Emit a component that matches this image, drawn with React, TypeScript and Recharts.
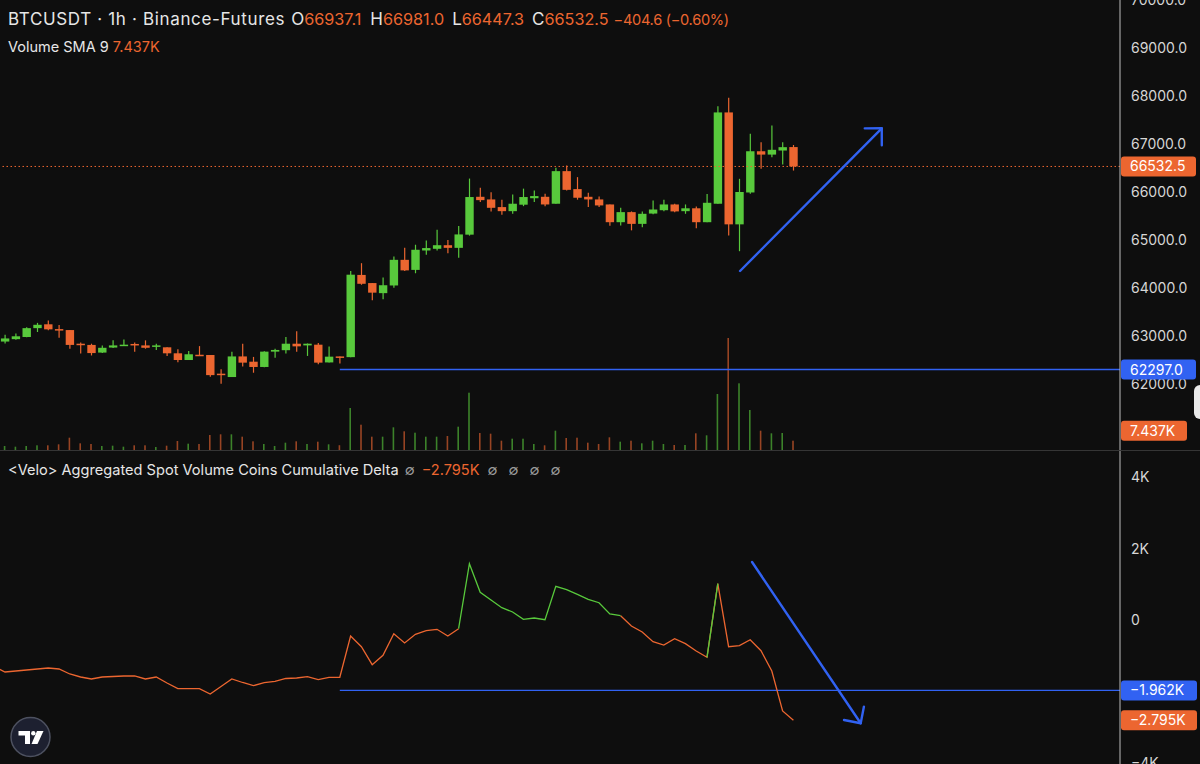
import React from 'react';
import { ComposedChart, Bar, Line, XAxis, YAxis, ReferenceLine } from 'recharts';

// ---------- data (1h BTCUSDT candles, oldest -> newest) ----------
const opens = [62880,62930,62975,63160,63240,63140,63120,62835,62810,62650,62755,62790,62830,62800,62770,62760,62635,62495,62605,62600,62210,62140,62570,62460,62350,62670,62700,62835,62800,62815,62445,62570,62555,64270,64100,63890,64050,64585,64375,64780,64815,64890,64835,65110,65900,65845,65685,65600,65735,65870,65900,65755,66435,66060,65900,65845,65740,65370,65580,65335,65550,65620,65740,65600,65660,65370,65755,67660,65325,65990,66850,66780,66865,66937.1];
const highs = [63020,63050,63180,63270,63320,63225,63120,62860,62835,62800,62905,62925,62860,62905,62835,62760,62720,62685,62785,62600,62300,62670,62835,62560,62680,62730,62975,63095,62840,62850,62775,62570,64350,64515,64100,64215,64655,64835,64900,64990,65215,65000,65290,66280,66090,65995,65840,65950,66070,66030,65965,66505,66555,66310,65985,65905,65740,65670,65595,65595,65825,65840,65755,65740,65700,65960,67790,67965,66275,67215,67040,67385,67040,66981.0];
const lows = [62840,62920,62970,63080,63115,62960,62730,62630,62590,62640,62745,62785,62670,62730,62705,62580,62450,62495,62585,62145,62000,62140,62360,62230,62345,62540,62630,62670,62580,62405,62445,62420,62555,64065,63740,63765,64000,64350,64305,64690,64780,64720,64630,65090,65790,65595,65525,65545,65705,65790,65705,65755,66030,65840,65685,65685,65295,65300,65200,65265,65535,65600,65580,65545,65245,65370,65755,65090,64765,65965,66485,66725,66575,66447.3];
const closes = [62945,62990,63160,63230,63135,63115,62810,62810,62640,62750,62800,62815,62800,62750,62800,62635,62495,62615,62585,62180,62180,62570,62440,62350,62670,62705,62835,62780,62835,62440,62565,62545,64275,64085,63900,64055,64585,64365,64795,64830,64890,64835,65115,65895,65830,65670,65600,65755,65895,65915,65740,66435,66045,65880,65845,65720,65370,65580,65335,65545,65635,65740,65595,65660,65370,65775,67660,65325,66000,66850,66780,66880,66935,66532.5];
const volumes = [760,630,760,890,890,1080,2340,1270,1140,760,820,630,890,890,570,820,1710,1200,1140,2850,2980,2980,2530,1650,1140,760,1390,1650,1140,1580,1080,910,7980,4810,2530,2530,4310,3550,3290,2530,2530,2660,4430,10890,3230,3100,1770,2150,2150,1140,890,3670,2280,2340,1390,1140,2410,1580,1770,1270,1770,1140,950,950,3170,2790,10640,21280,12670,7600,3670,3170,3230,1770];
// Aggregated spot cumulative volume delta (coins), one value per candle
const cvdPrev = -1300;
const cvd = [-1446,-1418,-1390,-1362,-1334,-1362,-1502,-1586,-1642,-1586,-1572,-1558,-1558,-1642,-1586,-1754,-1913,-1913,-1913,-2061,-1852,-1642,-1740,-1829,-1745,-1706,-1628,-1614,-1578,-1661,-1594,-1594,-439,-738,-1242,-979,-375,-635,-392,-291,-252,-439,-235,1583,783,568,352,232,28,64,15,951,856,727,587,492,176,129,-159,-327,-599,-691,-515,-654,-859,-1035,1024,-738,-710,-543,-850,-1418,-2537,-2795];

const priceTicks = [61000,62000,63000,64000,65000,66000,67000,68000,69000,70000];
const cvdTicks = [-4000,-2000,0,2000,4000];
const lastPrice = 66532.5;
const levelPrice = 62297.0;
const levelCvd = -1962;
const volSma = 7437;
const volLabelPos = 3644; // where the volume SMA tag sits on the volume scale
const levelStartIdx = 31;
const arrowUp = [{ x: 68.06, y: 64352 }, { x: 81.18, y: 67329 }];
const arrowDown = [{ x: 69.17, y: 1631 }, { x: 79.23, y: -2881 }];

// ---------- styling ----------
const BG = '#0e0e0e';
const GREEN = '#58c93c';
const ORANGE = '#ec6630';
const BLUE = '#3162f2';
const TXT = '#e6e6e6';
const AXIS_TXT = '#d6d6d6';
const FONT = 'Inter, "Noto Sans", sans-serif';
const X_DOMAIN: [number, number] = [-0.463, 103.24];
const PRICE_DOMAIN: [number, number] = [60618, 70005];
const VOL_DOMAIN: [number, number] = [0, 85500];
const CVD_DOMAIN: [number, number] = [-4020, 4736];

const candleRows = opens.map((o, k) => ({
  i: k, open: o, high: highs[k], low: lows[k], close: closes[k], vol: volumes[k],
}));

const allCvd = [cvdPrev, ...cvd];
const cvdRows = allCvd.map((v, k) => {
  const next = allCvd[k + 1];
  const inUp = v > 0 || (next !== undefined && next > 0);
  const inDn = v <= 0 || (next !== undefined && next <= 0);
  return { i: k - 1, up: inUp ? v : null, dn: inDn ? v : null };
});

const CandleShape = (props: any) => {
  const { x, y, width, height, payload } = props;
  if (!payload || payload.open == null) return null;
  const { open, close, high, low } = payload;
  const cx = x + width / 2;
  const per = height / (high - low || 1);
  const yO = y + (high - open) * per;
  const yC = y + (high - close) * per;
  const color = close >= open ? GREEN : ORANGE;
  const top = Math.min(yO, yC);
  const h = Math.max(Math.abs(yC - yO), 1.5);
  return (
    <g>
      <line x1={cx} x2={cx} y1={y} y2={y + height} stroke={color} strokeWidth={1.2} />
      <rect x={cx - 4.2} y={top} width={8.4} height={h} fill={color} />
    </g>
  );
};

const VolShape = (props: any) => {
  const { x, y, width, height, payload } = props;
  if (!payload || height <= 0) return null;
  const cx = x + width / 2;
  const color = payload.close >= payload.open ? 'rgba(88,201,60,0.62)' : 'rgba(236,102,48,0.62)';
  return <rect x={cx - 0.8} y={y} width={1.6} height={height} fill={color} />;
};

const arrowShape = (props: any) => {
  const { x1, y1, x2, y2 } = props;
  if ([x1, y1, x2, y2].some((v) => v == null || isNaN(v))) return <g />;
  const ang = Math.atan2(y2 - y1, x2 - x1) + Math.PI;
  const L = 17;
  const w1 = { x: x2 + L * Math.cos(ang - Math.PI / 4), y: y2 + L * Math.sin(ang - Math.PI / 4) };
  const w2 = { x: x2 + L * Math.cos(ang + Math.PI / 4), y: y2 + L * Math.sin(ang + Math.PI / 4) };
  return (
    <g>
      <line x1={x1} y1={y1} x2={x2} y2={y2} stroke={BLUE} strokeWidth={2.4} strokeLinecap="round" />
      <polyline points={`${w1.x},${w1.y} ${x2},${y2} ${w2.x},${w2.y}`} fill="none" stroke={BLUE} strokeWidth={2.4} strokeLinecap="round" strokeLinejoin="round" />
    </g>
  );
};

const axisBox = (text: string, fill: string, w = 75) => (props: any) => {
  const vb = props.viewBox || {};
  const x0 = (vb.x || 0) + (vb.width || 0) + 1;
  const yc = (vb.y || 0) + (vb.height || 0) / 2;
  return (
    <g>
      <rect x={x0} y={yc - 10} width={w} height={20} rx={3} fill={fill} />
      <text x={x0 + 9} y={yc + 5} fill="#ffffff" fontSize={14} fontFamily={FONT}>{text}</text>
    </g>
  );
};

const priceTick = (p: any) => (
  <text x={p.x} y={p.y} dy={5} fill={AXIS_TXT} fontSize={14} fontFamily={FONT} textAnchor="start">
    {Number(p.payload.value).toFixed(1)}
  </text>
);

const fmtK = (v: number) => (v === 0 ? '0' : `${v < 0 ? '\u2212' : ''}${Math.abs(v) / 1000}K`);
const cvdTick = (p: any) => (
  <text x={p.x} y={p.y} dy={5} fill={AXIS_TXT} fontSize={14} fontFamily={FONT} textAnchor="start">
    {fmtK(Number(p.payload.value))}
  </text>
);

const O = ({ children, fs }: any) => <span style={{ color: ORANGE, fontSize: fs }}>{children}</span>;
const Null = ({ ml }: any) => <span style={{ color: '#9a9a9a', marginLeft: ml }}>∅</span>;

export default function App() {
  return (
    <div style={{ position: 'absolute', left: 0, top: 0, width: 1200, height: 764, background: BG, overflow: 'hidden', fontFamily: FONT }}>
      {/* volume (behind candles) */}
      <div style={{ position: 'absolute', left: 0, top: 0 }}>
        <ComposedChart width={1200} height={450} data={candleRows} margin={{ top: 0, right: 80, bottom: 0, left: 0 }}>
          <XAxis dataKey="i" type="number" domain={X_DOMAIN} allowDataOverflow hide />
          <YAxis yAxisId="vol" domain={VOL_DOMAIN} allowDataOverflow hide />
          <Bar yAxisId="vol" dataKey="vol" barSize={6} shape={VolShape} isAnimationActive={false} />
        </ComposedChart>
      </div>
      {/* price pane */}
      <div style={{ position: 'absolute', left: 0, top: 0 }}>
        <ComposedChart width={1200} height={450} data={candleRows} margin={{ top: 0, right: 0, bottom: 0, left: 0 }}>
          <XAxis dataKey="i" type="number" domain={X_DOMAIN} allowDataOverflow hide />
          <YAxis yAxisId="p" orientation="right" width={80} domain={PRICE_DOMAIN} allowDataOverflow ticks={priceTicks} interval={0}
            tick={priceTick} tickLine={false} tickSize={0} tickMargin={11} axisLine={{ stroke: '#bdbdbd', strokeWidth: 1 }} />
          <ReferenceLine yAxisId="p" y={lastPrice} stroke={ORANGE} strokeDasharray="1.5 2.5" strokeWidth={1} />
          <ReferenceLine yAxisId="p" segment={[{ x: levelStartIdx, y: levelPrice }, { x: X_DOMAIN[1], y: levelPrice }]}
            stroke={BLUE} strokeWidth={1.3} />
          <Bar yAxisId="p" dataKey={(d: any) => [d.low, d.high]} barSize={9} shape={CandleShape} isAnimationActive={false} />
          <ReferenceLine yAxisId="p" segment={arrowUp} shape={arrowShape} />
        </ComposedChart>
      </div>
      {/* price-scale tags (above the tick labels) */}
      <div style={{ position: 'absolute', left: 0, top: 0 }}>
        <ComposedChart width={1200} height={450} data={candleRows} margin={{ top: 0, right: 80, bottom: 0, left: 0 }}>
          <XAxis dataKey="i" type="number" domain={X_DOMAIN} allowDataOverflow hide />
          <YAxis yAxisId="p" domain={PRICE_DOMAIN} allowDataOverflow hide />
          <YAxis yAxisId="vol" domain={VOL_DOMAIN} allowDataOverflow hide />
          <ReferenceLine yAxisId="p" y={lastPrice} stroke="none" label={axisBox(lastPrice.toFixed(1), ORANGE)} />
          <ReferenceLine yAxisId="p" y={levelPrice} stroke="none" label={axisBox(levelPrice.toFixed(1), BLUE)} />
          <ReferenceLine yAxisId="vol" y={volLabelPos} stroke="none" label={axisBox(`${(volSma / 1000).toFixed(3)}K`, ORANGE, 66)} />
        </ComposedChart>
      </div>
      {/* pane separator */}
      <div style={{ position: 'absolute', left: 0, top: 450, width: 1200, height: 1, background: '#353535' }} />
      {/* CVD pane */}
      <div style={{ position: 'absolute', left: 0, top: 451 }}>
        <ComposedChart width={1200} height={313} data={cvdRows} margin={{ top: 0, right: 0, bottom: 0, left: 0 }}>
          <XAxis dataKey="i" type="number" domain={X_DOMAIN} allowDataOverflow hide />
          <YAxis yAxisId="c" orientation="right" width={80} domain={CVD_DOMAIN} allowDataOverflow ticks={cvdTicks} interval={0}
            tick={cvdTick} tickLine={false} tickSize={0} tickMargin={11} axisLine={{ stroke: '#bdbdbd', strokeWidth: 1 }} />
          <ReferenceLine yAxisId="c" segment={[{ x: levelStartIdx, y: levelCvd }, { x: X_DOMAIN[1], y: levelCvd }]}
            stroke={BLUE} strokeWidth={1.3} />
          <Line yAxisId="c" dataKey="dn" type="linear" stroke={ORANGE} strokeWidth={1.3} dot={false} connectNulls={false} isAnimationActive={false} />
          <Line yAxisId="c" dataKey="up" type="linear" stroke={GREEN} strokeWidth={1.3} dot={false} connectNulls={false} isAnimationActive={false} />
          <ReferenceLine yAxisId="c" segment={arrowDown} shape={arrowShape} />
        </ComposedChart>
      </div>
      <div style={{ position: 'absolute', left: 0, top: 451 }}>
        <ComposedChart width={1200} height={313} data={cvdRows} margin={{ top: 0, right: 80, bottom: 0, left: 0 }}>
          <XAxis dataKey="i" type="number" domain={X_DOMAIN} allowDataOverflow hide />
          <YAxis yAxisId="c" domain={CVD_DOMAIN} allowDataOverflow hide />
          <ReferenceLine yAxisId="c" y={levelCvd} stroke="none" label={axisBox('\u22121.962K', BLUE, 76)} />
          <ReferenceLine yAxisId="c" y={cvd[cvd.length - 1]} stroke="none" label={axisBox('\u22122.795K', ORANGE, 76)} />
        </ComposedChart>
      </div>
      {/* legends */}
      <div style={{ position: 'absolute', left: 8, top: 8, fontSize: 17, lineHeight: '22px', color: TXT, whiteSpace: 'nowrap' }}>
        <span style={{ letterSpacing: 0.65 }}>BTCUSDT · 1h · Binance-Futures</span>
        <span style={{ marginLeft: 6 }}>O</span><O fs={16.2}>66937.1</O>
        <span style={{ marginLeft: 9 }}>H</span><O fs={16.2}>66981.0</O>
        <span style={{ marginLeft: 8 }}>L</span><O fs={16.2}>66447.3</O>
        <span style={{ marginLeft: 8 }}>C</span><O fs={16.2}>66532.5</O>
        <span style={{ marginLeft: 5, letterSpacing: -0.3 }}><O fs={14.6}>{'\u2212404.6 (\u22120.60%)'}</O></span>
      </div>
      <div style={{ position: 'absolute', left: 8, top: 37, fontSize: 14.5, lineHeight: '20px', color: TXT, whiteSpace: 'nowrap' }}>
        Volume SMA 9 <O>7.437K</O>
      </div>
      <div style={{ position: 'absolute', left: 8, top: 460, fontSize: 14.6, lineHeight: '20px', color: TXT, whiteSpace: 'nowrap' }}>
        {'<Velo> Aggregated Spot Volume Coins Cumulative Delta'}
        <Null ml={6} />
        <span style={{ marginLeft: 7 }}><O>{'\u22122.795K'}</O></span>
        <Null ml={8} /><Null ml={11} /><Null ml={11} /><Null ml={11} />
      </div>
      {/* right-edge handle */}
      <div style={{ position: 'absolute', left: 1194, top: 385, width: 14, height: 34, borderRadius: 6, background: '#e9e9e9' }} />
      {/* TradingView badge */}
      <svg style={{ position: 'absolute', left: 9, top: 716 }} width={44} height={44}>
        <circle cx={21.5} cy={21} r={19.5} fill="#1d2030" stroke="#4d5160" strokeWidth={1.5} />
        <path d="M9.5 15 H21 V28 H16 V19.5 H9.5 Z" fill="#ffffff" />
        <circle cx={24.3} cy={17.2} r={2.2} fill="#ffffff" />
        <path d="M28 15 H34.5 L28.5 28 H22.5 Z" fill="#ffffff" />
      </svg>
    </div>
  );
}
